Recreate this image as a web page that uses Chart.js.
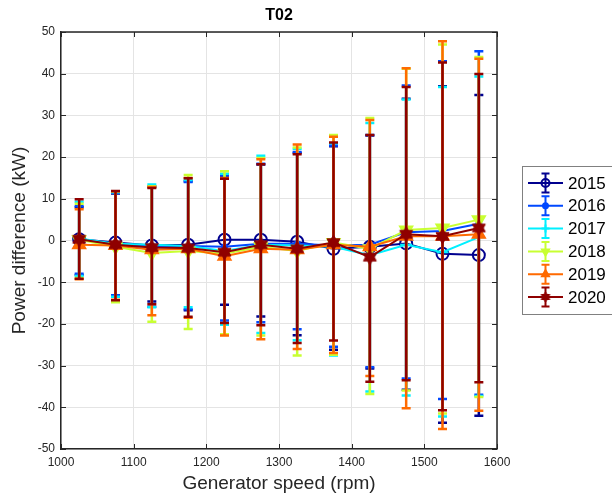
<!DOCTYPE html>
<html>
<head>
<meta charset="utf-8">
<script src="https://cdn.jsdelivr.net/npm/chart.js@4"></script>
<style>
  html, body { margin: 0; padding: 0; background: #fff; }
</style>
</head>
<body>
<canvas id="c" width="612" height="497"></canvas>
<script>
// generator speed bins (rpm)
const speeds = [1025, 1075, 1125, 1175, 1225, 1275, 1325, 1375, 1425, 1475, 1525, 1575];
const years = ['2015', '2016', '2017', '2018', '2019', '2020'];
const xTicks = [1000, 1100, 1200, 1300, 1400, 1500, 1600];
const yTicks = [-50, -40, -30, -20, -10, 0, 10, 20, 30, 40, 50];

// mean power difference (kW)
const mean2015 = [0.3, -0.5, -1.2, -1.0, 0.2, 0.2, -0.3, -2.0, -1.5, -0.7, -3.2, -3.5];
const mean2016 = [0.2, -0.8, -1.3, -1.3, -1.5, -0.8, -0.8, -1.2, -1.0, 2.0, 2.3, 4.0];
const mean2017 = [0.5, -0.8, -1.0, -1.3, -2.5, -1.0, -1.2, -1.5, -3.5, -1.0, -2.8, 0.8];
const mean2018 = [0.2, -1.5, -3.0, -2.5, -3.2, -1.5, -2.5, -0.5, -2.0, 2.5, 3.0, 5.0];
const mean2019 = [-1.0, -1.2, -2.2, -2.0, -3.8, -2.0, -2.2, -1.0, -1.5, 1.0, 1.0, 1.5];
const mean2020 = [0.3, -1.0, -1.7, -1.8, -2.8, -1.0, -2.0, -0.5, -4.0, 1.5, 1.0, 3.0];

// lower end of error bars
const low2015 = [-8.3, -13.3, -14.6, -16.7, -15.4, -18.2, -22.7, -26.2, -30.7, -35.8, -43.7, -42.0];
const low2016 = [-8.0, -13.1, -15.9, -16.5, -19.2, -19.6, -21.3, -25.5, -30.4, -33.1, -38.0, -37.0];
const low2017 = [-8.5, -13.5, -16.0, -16.0, -20.2, -22.2, -23.9, -27.6, -36.2, -37.2, -42.2, -37.3];
const low2018 = [-9.0, -14.8, -19.5, -21.2, -22.5, -22.8, -27.6, -27.4, -36.8, -36.0, -41.5, -37.5];
const low2019 = [-9.3, -14.2, -17.9, -18.5, -22.8, -23.7, -26.0, -27.0, -32.5, -40.2, -45.2, -40.8];
const low2020 = [-9.2, -14.3, -15.3, -18.3, -19.8, -20.3, -24.6, -24.0, -33.9, -33.5, -40.7, -34.0];

// upper end of error bars
const high2015 = [8.0, 11.3, 12.8, 14.2, 15.3, 18.2, 21.0, 22.6, 25.2, 34.0, 37.0, 34.9];
const high2016 = [8.2, 11.5, 13.0, 14.0, 15.6, 18.4, 21.2, 22.8, 25.3, 37.2, 43.0, 45.4];
const high2017 = [9.3, 11.6, 13.4, 14.5, 16.0, 20.3, 22.0, 23.3, 28.2, 33.8, 36.8, 39.3];
const high2018 = [8.8, 11.8, 13.0, 15.7, 16.6, 19.8, 22.3, 25.3, 29.4, 41.2, 47.0, 44.0];
const high2019 = [7.5, 11.8, 12.8, 15.0, 15.0, 19.5, 23.0, 24.9, 28.9, 41.3, 47.8, 43.6];
const high2020 = [9.9, 11.9, 12.6, 14.9, 14.8, 18.3, 20.7, 23.5, 25.3, 36.8, 42.7, 39.9];

const means = [mean2015, mean2016, mean2017, mean2018, mean2019, mean2020];
const lows = [low2015, low2016, low2017, low2018, low2019, low2020];
const highs = [high2015, high2016, high2017, high2018, high2019, high2020];
const colors = ['#00008f', '#0048ff', '#00f0ff', '#c8ff32', '#ff6a00', '#8f0000'];

const FONT = "'Liberation Sans', Arial, Helvetica, sans-serif";

function hexagram(color, r) {
  const c = document.createElement('canvas');
  const s = Math.ceil(r * 2 + 4);
  c.width = c.height = s;
  const g = c.getContext('2d');
  const m = s / 2;
  g.fillStyle = color;
  g.strokeStyle = color;
  g.lineWidth = 1;
  [-Math.PI / 2, Math.PI / 2].forEach(a0 => {
    g.beginPath();
    for (let k = 0; k < 3; k++) {
      const a = a0 + k * 2 * Math.PI / 3;
      g.lineTo(m + r * Math.cos(a), m + r * Math.sin(a));
    }
    g.closePath();
    g.fill();
    g.stroke();
  });
  return c;
}

// marker settings per year (matlab: o . + v ^ hexagram)
const markers = [
  { pointStyle: 'circle', radius: 6, fill: false, rotation: 0 },
  { pointStyle: 'circle', radius: 2.5, fill: true, rotation: 0 },
  { pointStyle: 'cross', radius: 6, fill: false, rotation: 0 },
  { pointStyle: 'triangle', radius: 7, fill: true, rotation: 180 },
  { pointStyle: 'triangle', radius: 7, fill: true, rotation: 0 },
  { pointStyle: hexagram(colors[5], 7.5), radius: 7, fill: true, rotation: 0 }
];

const datasets = years.map((yr, i) => ({
  label: yr,
  data: speeds.map((s, j) => ({ x: s, y: means[i][j] })),
  errLow: lows[i],
  errHigh: highs[i],
  borderColor: colors[i],
  backgroundColor: colors[i],
  borderWidth: 2,
  pointStyle: markers[i].pointStyle,
  pointRadius: markers[i].radius,
  pointRotation: markers[i].rotation,
  pointBorderWidth: 2,
  pointBackgroundColor: markers[i].fill ? colors[i] : 'rgba(0,0,0,0)',
  pointBorderColor: colors[i],
  order: years.length - 1 - i,   // 2020 ends up on top
  tension: 0
}));

// error bars drawn just before each series line
const errorBars = {
  id: 'errorBars',
  beforeDatasetDraw(chart, args) {
    const ds = chart.data.datasets[args.index];
    const xs = chart.scales.x, ys = chart.scales.y;
    const ctx = chart.ctx;
    ctx.save();
    ctx.strokeStyle = ds.borderColor;
    ctx.lineWidth = 2.5;
    ds.data.forEach((p, j) => {
      const px = xs.getPixelForValue(p.x);
      const top = ys.getPixelForValue(ds.errHigh[j]);
      const bot = ys.getPixelForValue(ds.errLow[j]);
      ctx.beginPath();
      ctx.moveTo(px, top); ctx.lineTo(px, bot);
      ctx.moveTo(px - 4.5, top); ctx.lineTo(px + 4.5, top);
      ctx.moveTo(px - 4.5, bot); ctx.lineTo(px + 4.5, bot);
      ctx.stroke();
    });
    ctx.restore();
  }
};

// box on top/right and inward tick marks like matlab axes
const axesBox = {
  id: 'axesBox',
  beforeDatasetsDraw(chart) {
    const { ctx, chartArea: a } = chart;
    const xs = chart.scales.x, ys = chart.scales.y;
    ctx.save();
    ctx.strokeStyle = '#262626';
    ctx.lineWidth = 1;
    ctx.beginPath();
    xTicks.forEach(v => {
      const px = Math.round(xs.getPixelForValue(v)) + 0.5;
      ctx.moveTo(px, a.bottom); ctx.lineTo(px, a.bottom - 5);
      ctx.moveTo(px, a.top); ctx.lineTo(px, a.top + 5);
    });
    yTicks.forEach(v => {
      const py = Math.round(ys.getPixelForValue(v)) + 0.5;
      ctx.moveTo(a.left, py); ctx.lineTo(a.left + 5, py);
      ctx.moveTo(a.right, py); ctx.lineTo(a.right - 5, py);
    });
    ctx.stroke();
    ctx.lineWidth = 1.5;
    ctx.beginPath();
    ctx.moveTo(a.left, a.top); ctx.lineTo(a.right, a.top); ctx.lineTo(a.right, a.bottom);
    ctx.stroke();
    ctx.restore();
  }
};

// matlab style legend box on the right
const matLegend = {
  id: 'matLegend',
  afterDraw(chart) {
    const ctx = chart.ctx;
    const left = 522.5, top = 166.5, step = 22.8;
    ctx.save();
    ctx.fillStyle = '#fff';
    ctx.fillRect(left, top, 120, 148);
    ctx.strokeStyle = '#808080';
    ctx.lineWidth = 1;
    ctx.strokeRect(left, top, 120, 148);
    years.forEach((yr, i) => {
      const cy = 183 + i * step;
      const cx = 545.5;
      ctx.strokeStyle = colors[i];
      ctx.fillStyle = colors[i];
      ctx.lineWidth = 2;
      ctx.beginPath();
      ctx.moveTo(528, cy); ctx.lineTo(563, cy);
      ctx.moveTo(cx, cy - 9.5); ctx.lineTo(cx, cy + 9.5);
      ctx.moveTo(cx - 4, cy - 9.5); ctx.lineTo(cx + 4, cy - 9.5);
      ctx.moveTo(cx - 4, cy + 9.5); ctx.lineTo(cx + 4, cy + 9.5);
      ctx.stroke();
      const m = markers[i];
      const style = i === 5 ? hexagram(colors[5], 5) : m.pointStyle;
      ctx.fillStyle = m.fill ? colors[i] : 'rgba(0,0,0,0)';
      Chart.helpers.drawPoint(ctx, {
        pointStyle: style,
        radius: i === 1 ? 2.5 : 4,
        rotation: m.rotation,
        borderWidth: 1.5
      }, cx, cy);
      ctx.fillStyle = '#000';
      ctx.font = '17px ' + FONT;
      ctx.textBaseline = 'middle';
      ctx.textAlign = 'left';
      ctx.fillText(yr, 568, cy + 1);
    });
    ctx.restore();
  }
};

new Chart(document.getElementById('c'), {
  type: 'line',
  data: { datasets },
  plugins: [errorBars, axesBox, matLegend],
  options: {
    responsive: false,
    animation: false,
    devicePixelRatio: 1,
    layout: { padding: { left: 0, right: 115, top: 0, bottom: 0 } },
    plugins: {
      legend: { display: false },
      tooltip: { enabled: false },
      title: {
        display: true,
        text: 'T02',
        fullSize: false,
        color: '#000',
        font: { family: FONT, size: 16, weight: 'bold', lineHeight: 1.2 },
        padding: { top: 6, bottom: 6.8 }
      }
    },
    scales: {
      x: {
        type: 'linear',
        min: 1000,
        max: 1600,
        afterFit: s => { s.height = 48; },
        afterBuildTicks: s => { s.ticks = xTicks.map(v => ({ value: v })); },
        ticks: {
          color: '#262626',
          font: { family: FONT, size: 12 },
          padding: 6,
          maxRotation: 0,
          callback: v => String(v)
        },
        grid: { color: '#e4e4e4', lineWidth: 1, drawTicks: false },
        border: { color: '#262626', width: 1.5 },
        title: {
          display: true,
          text: 'Generator speed (rpm)',
          color: '#262626',
          font: { family: FONT, size: 19, lineHeight: 1.2 },
          padding: { top: 0, bottom: 1.5 }
        }
      },
      y: {
        type: 'linear',
        min: -50,
        max: 50,
        afterFit: s => { s.width = 61; },
        afterBuildTicks: s => { s.ticks = yTicks.map(v => ({ value: v })); },
        ticks: {
          color: '#262626',
          font: { family: FONT, size: 12 },
          padding: 6,
          callback: v => String(v)
        },
        grid: { color: '#e4e4e4', lineWidth: 1, drawTicks: false },
        border: { color: '#262626', width: 1.5 },
        title: {
          display: true,
          text: 'Power difference (kW)',
          color: '#262626',
          font: { family: FONT, size: 19, lineHeight: 1.2 },
          padding: { top: 8, bottom: 0 }
        }
      }
    }
  }
});
</script>
</body>
</html>
